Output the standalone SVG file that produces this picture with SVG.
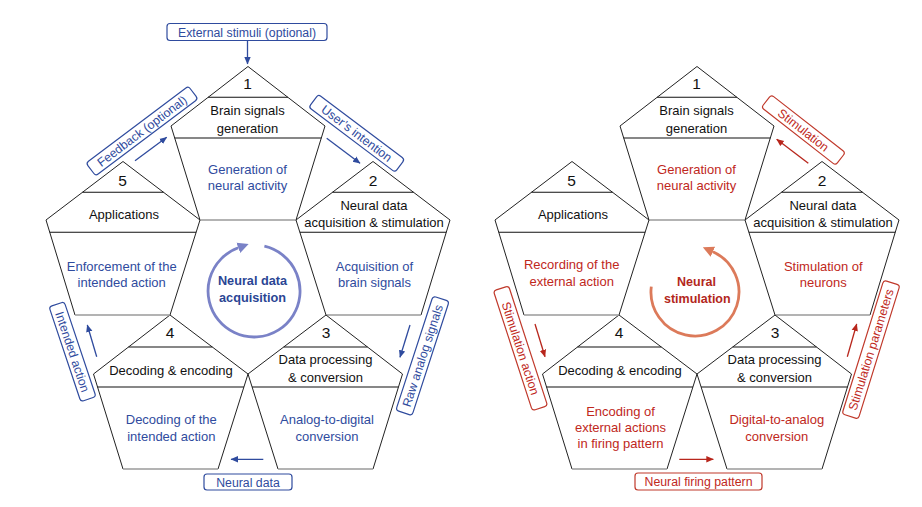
<svg xmlns="http://www.w3.org/2000/svg" width="922" height="507" viewBox="0 0 922 507">
<style>
text{font-family:"Liberation Sans",Arial,sans-serif;text-anchor:middle}
.edge{fill:none;stroke:#222;stroke-width:1;stroke-linejoin:miter}
.base{stroke:#9a9a9a;stroke-width:1.6}
.div{stroke:#111;stroke-width:1.1}
.num{font-size:15.5px;fill:#111}
.tt{font-size:13px;fill:#111}
.bt{font-size:13px;fill:#2f4b9e}
.rt{font-size:13px;fill:#c0281c}
.lb{font-size:12.3px;fill:#2f4b9e}
.lr{font-size:12.3px;fill:#c0281c}
.bx{fill:#fff;stroke:#2f4b9e;stroke-width:1.2}
.rx{fill:#fff;stroke:#c0392b;stroke-width:1.2}
.ab{stroke:#2f4b9e;stroke-width:1.3;fill:none;marker-end:url(#mb)}
.ar{stroke:#b8261c;stroke-width:1.3;fill:none;marker-end:url(#mr)}
.cb{font-size:12.7px;font-weight:bold;fill:#2a4594}
.cr{font-size:12.5px;font-weight:bold;fill:#b3271c}
</style>
<defs>
<marker id="mb" markerUnits="userSpaceOnUse" viewBox="0 -4 8 8" markerWidth="8" markerHeight="8" refX="7" refY="0" orient="auto"><path d="M0,-3.2 L7.5,0 L0,3.2 z" fill="#2f4b9e"/></marker>
<marker id="mr" markerUnits="userSpaceOnUse" viewBox="0 -4 8 8" markerWidth="8" markerHeight="8" refX="7" refY="0" orient="auto"><path d="M0,-3.2 L7.5,0 L0,3.2 z" fill="#b8261c"/></marker>
<marker id="cbm" markerUnits="userSpaceOnUse" viewBox="0 -6 12 12" markerWidth="12" markerHeight="12" refX="0" refY="0" orient="auto"><path d="M0,-5.5 L11,0 L0,5.5 z" fill="#7a82c7"/></marker>
<marker id="crm" markerUnits="userSpaceOnUse" viewBox="0 -6 12 12" markerWidth="12" markerHeight="12" refX="0" refY="0" orient="auto"><path d="M0,-5.5 L11,0 L0,5.5 z" fill="#dc7a5a"/></marker>
</defs>
<rect width="922" height="507" fill="#fff"/>

<!-- LEFT DIAGRAM -->
<g id="l-node1">
<polyline class="edge" points="200,220 171,126 248,66.5 325,126 296,220"/>
<line class="base" x1="200" y1="220" x2="296" y2="220"/>
<line class="div" x1="208.1" y1="97.3" x2="287.9" y2="97.3"/>
<line class="div" x1="174.7" y1="138" x2="321.3" y2="138"/>
<text class="num" x="247.5" y="89.3">1</text>
<text class="tt" x="247.5" y="115">Brain signals</text>
<text class="tt" x="247.5" y="132.5">generation</text>
<text class="bt" x="247.5" y="174.3">Generation of</text>
<text class="bt" x="247.5" y="190">neural activity</text>
</g>
<g id="l-node2">
<polyline class="edge" points="326,315 296,220 373,161.5 450,220 421,315"/>
<line class="base" x1="326" y1="315" x2="421" y2="315"/>
<line class="div" x1="332.5" y1="192.3" x2="413.5" y2="192.3"/>
<line class="div" x1="299.9" y1="232.3" x2="446.2" y2="232.3"/>
<text class="num" x="373" y="185.7">2</text>
<text class="tt" x="374" y="210">Neural data</text>
<text class="tt" x="374" y="227.3">acquisition &amp; stimulation</text>
<text class="bt" x="374.5" y="270.7">Acquisition of</text>
<text class="bt" x="374.5" y="287">brain signals</text>
</g>
<g id="l-node3">
<polyline class="edge" points="278,469 248,374 326,315 402.5,374 373,469"/>
<line class="base" x1="278" y1="469" x2="373" y2="469"/>
<line class="div" x1="283.7" y1="347" x2="367.5" y2="347"/>
<line class="div" x1="252.1" y1="387" x2="398.5" y2="387"/>
<text class="num" x="326" y="338.3">3</text>
<text class="tt" x="325.5" y="364.3">Data processing</text>
<text class="tt" x="325.5" y="381.7">&amp; conversion</text>
<text class="bt" x="327" y="424.3">Analog-to-digital</text>
<text class="bt" x="327" y="440.7">conversion</text>
</g>
<g id="l-node4">
<polyline class="edge" points="123,469 93.5,374 170,315 248,374 218,469"/>
<line class="base" x1="123" y1="469" x2="218" y2="469"/>
<line class="div" x1="128.5" y1="347" x2="212.3" y2="347"/>
<line class="div" x1="97.5" y1="387" x2="243.9" y2="387"/>
<text class="num" x="170" y="338.3">4</text>
<text class="tt" x="171" y="375">Decoding &amp; encoding</text>
<text class="bt" x="171.3" y="424.3">Decoding of the</text>
<text class="bt" x="171.3" y="440.7">intended action</text>
</g>
<g id="l-node5">
<polyline class="edge" points="75,315 46,220 123,161.5 200,220 170,315"/>
<line class="base" x1="75" y1="315" x2="170" y2="315"/>
<line class="div" x1="82.5" y1="192.3" x2="163.5" y2="192.3"/>
<line class="div" x1="49.8" y1="232.3" x2="196.1" y2="232.3"/>
<text class="num" x="122.5" y="185.7">5</text>
<text class="tt" x="124" y="219.3">Applications</text>
<text class="bt" x="121.7" y="270.7">Enforcement of the</text>
<text class="bt" x="121.7" y="287">intended action</text>
</g>
<g id="l-center">
<path d="M264.4,246.2 A46,46 0 1 1 238.3,247.8" fill="none" stroke="#7a82c7" stroke-width="2.8" marker-end="url(#cbm)"/>
<text class="cb" x="252.5" y="285">Neural data</text>
<text class="cb" x="252.5" y="301.7">acquisition</text>
</g>

<!-- RIGHT DIAGRAM -->
<g id="r-node1" transform="translate(449,0)">
<polyline class="edge" points="200,220 171,126 248,66.5 325,126 296,220"/>
<line class="base" x1="200" y1="220" x2="296" y2="220"/>
<line class="div" x1="208.1" y1="97.3" x2="287.9" y2="97.3"/>
<line class="div" x1="174.7" y1="138" x2="321.3" y2="138"/>
<text class="num" x="247.5" y="89.3">1</text>
<text class="tt" x="247.5" y="115">Brain signals</text>
<text class="tt" x="247.5" y="132.5">generation</text>
<text class="rt" x="247.5" y="174.3">Generation of</text>
<text class="rt" x="247.5" y="190">neural activity</text>
</g>
<g id="r-node2" transform="translate(449,0)">
<polyline class="edge" points="326,315 296,220 373,161.5 450,220 421,315"/>
<line class="base" x1="326" y1="315" x2="421" y2="315"/>
<line class="div" x1="332.5" y1="192.3" x2="413.5" y2="192.3"/>
<line class="div" x1="299.9" y1="232.3" x2="446.2" y2="232.3"/>
<text class="num" x="373" y="185.7">2</text>
<text class="tt" x="374" y="210">Neural data</text>
<text class="tt" x="374" y="227.3">acquisition &amp; stimulation</text>
<text class="rt" x="374.3" y="270.7">Stimulation of</text>
<text class="rt" x="374.3" y="287">neurons</text>
</g>
<g id="r-node3" transform="translate(449,0)">
<polyline class="edge" points="278,469 248,374 326,315 402.5,374 373,469"/>
<line class="base" x1="278" y1="469" x2="373" y2="469"/>
<line class="div" x1="283.7" y1="347" x2="367.5" y2="347"/>
<line class="div" x1="252.1" y1="387" x2="398.5" y2="387"/>
<text class="num" x="326" y="338.3">3</text>
<text class="tt" x="325.5" y="364.3">Data processing</text>
<text class="tt" x="325.5" y="381.7">&amp; conversion</text>
<text class="rt" x="327.8" y="424.3">Digital-to-analog</text>
<text class="rt" x="327.8" y="440.7">conversion</text>
</g>
<g id="r-node4" transform="translate(449,0)">
<polyline class="edge" points="123,469 93.5,374 170,315 248,374 218,469"/>
<line class="base" x1="123" y1="469" x2="218" y2="469"/>
<line class="div" x1="128.5" y1="347" x2="212.3" y2="347"/>
<line class="div" x1="97.5" y1="387" x2="243.9" y2="387"/>
<text class="num" x="170" y="338.3">4</text>
<text class="tt" x="171" y="375">Decoding &amp; encoding</text>
<text class="rt" x="171.5" y="415.7">Encoding of</text>
<text class="rt" x="171.5" y="431.7">external actions</text>
<text class="rt" x="171.5" y="448.3">in firing pattern</text>
</g>
<g id="r-node5" transform="translate(449,0)">
<polyline class="edge" points="75,315 46,220 123,161.5 200,220 170,315"/>
<line class="base" x1="75" y1="315" x2="170" y2="315"/>
<line class="div" x1="82.5" y1="192.3" x2="163.5" y2="192.3"/>
<line class="div" x1="49.8" y1="232.3" x2="196.1" y2="232.3"/>
<text class="num" x="122.5" y="185.7">5</text>
<text class="tt" x="124" y="219.3">Applications</text>
<text class="rt" x="122.7" y="269.3">Recording of the</text>
<text class="rt" x="122.7" y="286">external action</text>
</g>
<g id="r-center">
<path d="M651.3,286.6 A44,44 0 1 0 712.9,251.8" fill="none" stroke="#dc7a5a" stroke-width="2.8" marker-end="url(#crm)"/>
<text class="cr" x="696.5" y="286">Neural</text>
<text class="cr" x="697.3" y="303.3">stimulation</text>
</g>

<!-- CONNECTORS -->
<g id="connectors">
<line class="ab" x1="247.5" y1="41" x2="247.5" y2="64"/>
<line class="ab" x1="135" y1="160.7" x2="166.7" y2="137.3"/>
<line class="ab" x1="326.7" y1="138.3" x2="360" y2="163.3"/>
<line class="ab" x1="410" y1="325" x2="400" y2="357.3"/>
<line class="ab" x1="263.3" y1="459.3" x2="231" y2="459.3"/>
<line class="ab" x1="96.7" y1="356.7" x2="87.3" y2="325"/>

<line class="ar" x1="808.3" y1="163.3" x2="776.7" y2="139.3"/>
<line class="ar" x1="847.3" y1="356.7" x2="856.7" y2="324"/>
<line class="ar" x1="535" y1="324" x2="545" y2="356.7"/>
<line class="ar" x1="679.3" y1="459.3" x2="713.3" y2="459.3"/>

<g id="lbl-external">
<rect class="bx" x="167" y="23.5" width="160" height="17" rx="3"/>
<text class="lb" x="247" y="36.5">External stimuli (optional)</text>
</g>
<g id="lbl-feedback" transform="translate(142,131) rotate(-37)">
<rect class="bx" x="-64" y="-8" width="128" height="16" rx="3"/>
<text class="lb" x="0" y="4.3">Feedback (optional)</text>
</g>
<g id="lbl-intention" transform="translate(356.7,133.3) rotate(37)">
<rect class="bx" x="-54" y="-8" width="108" height="16" rx="3"/>
<text class="lb" x="0" y="4.3">User’s intention</text>
</g>
<g id="lbl-raw" transform="translate(422.5,355.8) rotate(-72)">
<rect class="bx" x="-60" y="-8.5" width="120" height="17" rx="3"/>
<text class="lb" x="0" y="4.3">Raw analog signals</text>
</g>
<g id="lbl-neuraldata">
<rect class="bx" x="204" y="474" width="88" height="16" rx="3"/>
<text class="lb" x="248" y="486.5">Neural data</text>
</g>
<g id="lbl-intended" transform="translate(72.5,351.7) rotate(71.5)">
<rect class="bx" x="-50" y="-8" width="100" height="16" rx="3"/>
<text class="lb" x="0" y="4.3">Intended action</text>
</g>

<g id="lbl-stimulation" transform="translate(803.4,130) rotate(38)">
<rect class="rx" x="-47" y="-8" width="94" height="16" rx="3"/>
<text class="lr" x="0" y="4.3">Stimulation</text>
</g>
<g id="lbl-stimparams" transform="translate(871,349.6) rotate(-72.7)">
<rect class="rx" x="-70" y="-8.5" width="140" height="17" rx="3"/>
<text class="lr" x="0" y="4.3">Stimulation parameters</text>
</g>
<g id="lbl-stimaction" transform="translate(520.5,348.3) rotate(72)">
<rect class="rx" x="-63" y="-8" width="126" height="16" rx="3"/>
<text class="lr" x="0" y="4.3">Stimulation action</text>
</g>
<g id="lbl-firing">
<rect class="rx" x="635" y="473" width="127" height="17" rx="3"/>
<text class="lr" x="698.5" y="486.3">Neural firing pattern</text>
</g>
</g>
</svg>
